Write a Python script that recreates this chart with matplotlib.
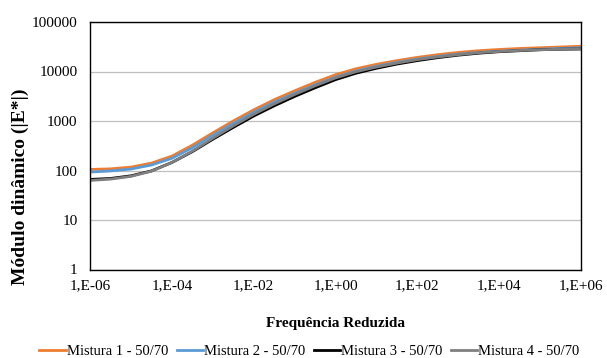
import matplotlib
matplotlib.use('Agg')
import matplotlib.pyplot as plt
import numpy as np

# reduced frequency (exponent of 10), half-decade steps
freq_exp = [-6, -5.5, -5, -4.5, -4, -3.5, -3, -2.5, -2, -1.5, -1, -0.5, 0,
            0.5, 1, 1.5, 2, 2.5, 3, 3.5, 4, 4.5, 5, 5.5, 6]

mistura1 = [105, 108, 117, 141, 195, 324, 575, 1000, 1680, 2690, 4070, 6030, 8610,
            11350, 13960, 16600, 19280, 21880, 24270, 26300, 27860, 29170, 30200, 31260, 32360]
mistura2 = [93, 98, 107, 129, 176, 288, 513, 891, 1500, 2400, 3630, 5370, 7670,
            10230, 12740, 15310, 17780, 20180, 22390, 24270, 25700, 26920, 28180, 29170, 30200]
mistura3 = [66, 69, 78, 98, 145, 240, 427, 741, 1260, 2020, 3130, 4680, 6840,
            9230, 11610, 14130, 16600, 19050, 21380, 23440, 25120, 26300, 27540, 28180, 28510]
mistura4 = [63, 67, 76, 97, 145, 245, 447, 794, 1365, 2210, 3430, 5130, 7410,
            9890, 12300, 14790, 17380, 19720, 21880, 23990, 25410, 26610, 27540, 28180, 28840]

series_names = ['Mistura 1 - 50/70', 'Mistura 2 - 50/70', 'Mistura 3 - 50/70', 'Mistura 4 - 50/70']
series_colors = ['#ED7D31', '#5B9BD5', '#000000', '#7F7F7F']

x_ticks = [1e-6, 1e-4, 1e-2, 1e0, 1e2, 1e4, 1e6]
x_tick_labels = ['1,E-06', '1,E-04', '1,E-02', '1,E+00', '1,E+02', '1,E+04', '1,E+06']
y_ticks = [1, 10, 100, 1000, 10000, 100000]
y_tick_labels = ['1', '10', '100', '1000', '10000', '100000']

plt.rcParams['font.family'] = ['Liberation Serif', 'DejaVu Serif']

fig = plt.figure(figsize=(6.07, 3.58), dpi=100)
ax = fig.add_axes([90 / 607, 1 - 269.5 / 358, 491 / 607, 247.5 / 358])

freq = 10.0 ** np.array(freq_exp)
for vals, name, col in zip([mistura1, mistura2, mistura3, mistura4], series_names, series_colors):
    ax.plot(freq, vals, color=col, linewidth=2.0, label=name, solid_joinstyle='round')

ax.set_xscale('log')
ax.set_yscale('log')
ax.set_xlim(1e-6, 1e6)
ax.set_ylim(1, 100000)
ax.set_xticks(x_ticks)
ax.set_xticklabels(x_tick_labels)
ax.set_yticks(y_ticks)
ax.set_yticklabels(y_tick_labels)
ax.minorticks_off()
ax.tick_params(axis='both', length=0, labelsize=11)
ax.tick_params(axis='y', pad=9)
ax.tick_params(axis='x', pad=7)
ax.grid(True, axis='y', color='#BFBFBF', linewidth=0.9)
ax.set_axisbelow(True)
for s in ax.spines.values():
    s.set_color('black')
    s.set_linewidth(1.0)

fig.text(336 / 607, 1 - 323 / 358, 'Frequência Reduzida', ha='center', va='center',
         fontsize=11, fontweight='bold')
fig.text(20 / 607, 1 - 187 / 358, 'Módulo dinâmico (|E*|)', ha='center', va='center',
         rotation=90, fontsize=14, fontweight='bold')

fig.legend(loc='center', bbox_to_anchor=(309.5 / 607, 1 - 351 / 358), ncol=4, frameon=False,
           fontsize=10.5, handlelength=1.8, handletextpad=0.1, columnspacing=0.55,
           borderpad=0, borderaxespad=0)

fig.savefig('out.png', dpi=100)
